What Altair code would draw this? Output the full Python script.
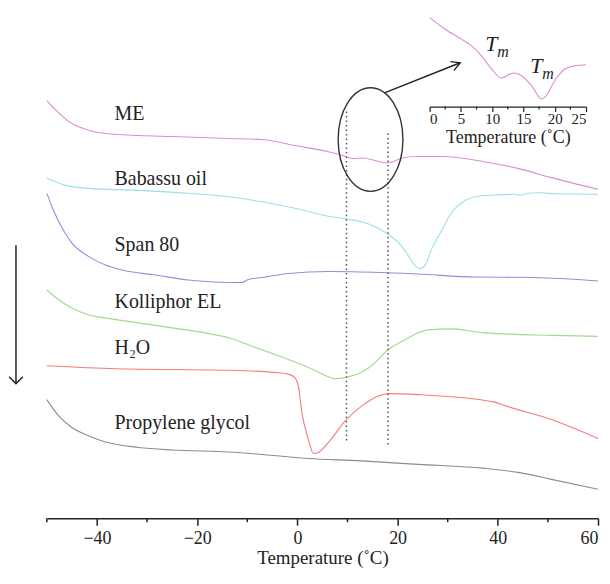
import altair as alt
import pandas as pd

FONT = "Liberation Serif"
INK = "#222222"

# ---- DSC curves: temperature (°C) and vertical position of the trace (a.u., endo down) ----
ME_T = [-50, -47.5, -45, -41.5, -39, -31.5, -25, -13.5, -7, -0.5, 6, 9, 11, 13, 15.5, 17.8, 19.5, 21, 24, 29, 37.5, 44, 50.5, 60]
ME_Y = [100, 113, 123, 130, 132.5, 135, 136, 138, 139, 145, 151, 155, 158, 157.5, 160, 162.5, 160.5, 157.5, 156, 156, 161.5, 168, 177, 189]

BAB_T = [-50, -46.3, -41.6, -31.7, -21.7, -13.7, -7.1, -0.5, 6.2, 10.2, 13.5, 15.5, 18.1, 20.8, 22.2, 23.6, 24.5, 25.5, 26.8, 28.7, 30.7, 33.4, 36.7, 40, 43.4, 44.6, 46, 48, 52, 60]
BAB_Y = [178, 185, 188, 190, 193, 196.5, 201.5, 208, 216, 219, 222.5, 226.5, 234, 246, 256, 266, 268.5, 265, 249, 231, 213, 200.5, 195.5, 194.5, 194, 195, 193, 192.5, 193.5, 194]

SPAN_T = [-50, -48.7, -46.7, -45, -41.6, -38.3, -35, -28.3, -21.7, -13.7, -11.1, -9.8, -7.1, -1.8, 6.2, 12.8, 24.1, 35.4, 47.3, 60]
SPAN_Y = [193, 210, 230, 243, 256.5, 265, 270, 275, 280, 282.5, 282.5, 279.5, 277.5, 273.5, 271.5, 272, 274, 277, 277.5, 281]

KOL_T = [-50, -47.6, -45, -41.6, -38.3, -31.7, -25, -18.4, -13.7, -9.8, -3.8, 2.8, 6.2, 7.5, 9.8, 12.8, 14.8, 18.1, 21.5, 24.1, 26.1, 30.7, 37.4, 50.7, 60]
KOL_Y = [290, 300, 308, 315, 318, 323, 328, 333, 338, 345, 356, 369, 377, 379, 377.5, 372.5, 366, 350, 340, 333, 330, 329, 333, 335.5, 336.5]

H2O_T = [-50, -36.3, -13.7, -3.8, -1.5, -0.5, 0.2, 0.9, 2.2, 3.2, 4.2, 6.2, 9.5, 12.8, 16.1, 18.1, 24.1, 39.4, 41.4, 50.7, 60]
H2O_Y = [366, 369, 370.5, 373, 375, 378, 386.5, 413, 440, 454, 453, 443, 421.5, 406.5, 396.5, 394, 395, 402.5, 406, 420, 439]

PG_T = [-50, -47.6, -45, -41.6, -38.3, -31.7, -25, -13.7, 2.2, 12.8, 24.1, 37.4, 44, 50.7, 60]
PG_Y = [400, 416.5, 428, 436.5, 442.5, 448, 450.5, 452.5, 459, 461.5, 465, 469, 473, 480, 490]

# inset (ME, 0-25 °C)
IN_T = [0, 2.5, 5.1, 6.7, 8.3, 9.9, 11.5, 12.6, 13.6, 14.7, 16.3, 17.9, 18.4, 20, 21.6, 23.2, 25]
IN_Y = [16.7, 28.3, 38.3, 45, 55, 68.3, 77.3, 74, 72.3, 75, 85, 98.3, 96.7, 80, 68.3, 65, 64]

SERIES = ["ME", "Babassu oil", "Span 80", "Kolliphor EL", "H\u2082O", "Propylene glycol"]
COLORS = ["#d98ed1", "#9cdfe8", "#8a93d6", "#a3d98f", "#f47c7c", "#8c8c8c"]
LABEL_Y = [113, 179, 245, 302, 348, 423]
LABEL_T = -36.5

# annotations
GUIDE_T = [9.8, 18.1]          # dotted guide temperatures
GUIDE_TOP = [111, 133]
GUIDE_BOT = [444, 447]

rows = []
for name, ts, ys in zip(SERIES, [ME_T, BAB_T, SPAN_T, KOL_T, H2O_T, PG_T],
                        [ME_Y, BAB_Y, SPAN_Y, KOL_Y, H2O_Y, PG_Y]):
    for i, (t, y) in enumerate(zip(ts, ys)):
        rows.append({"series": name, "T": t, "Y": y, "o": i})
curves = pd.DataFrame(rows)

xmain = alt.X(
    "T:Q",
    scale=alt.Scale(domain=[-50, 60], nice=False, zero=False),
    axis=alt.Axis(
        orient="bottom", values=[-40, -20, 0, 20, 40, 60], grid=False,
        tickSize=7, tickWidth=1.5, tickColor=INK, domainColor=INK, domainWidth=1.5,
        labelFont=FONT, labelFontSize=18, labelColor=INK, labelPadding=4, labelFlush=True,
        title="Temperature (\u02daC)", titleFont=FONT, titleFontSize=19,
        titleFontWeight="normal", titleColor=INK, titlePadding=1,
    ),
)
yenc = alt.Y("Y:Q", scale=alt.Scale(domain=[8, 519], reverse=True, nice=False, zero=False), axis=None)

lines = alt.Chart(curves).mark_line(strokeWidth=1.1, interpolate="monotone").encode(
    x=xmain, y=yenc,
    color=alt.Color("series:N", scale=alt.Scale(domain=SERIES, range=COLORS), legend=None),
    order="o:Q",
)

labels = alt.Chart(pd.DataFrame({"T": [LABEL_T] * 6, "Y": LABEL_Y, "label": SERIES})).mark_text(
    align="left", baseline="middle", font=FONT, fontSize=20, color=INK
).encode(x=xmain, y=yenc, text="label:N")

dotted = alt.Chart(pd.DataFrame({"T": GUIDE_T, "Y": GUIDE_TOP, "Y2": GUIDE_BOT})).mark_rule(
    color="#555555", strokeWidth=1.5, strokeDash=[1.5, 3]
).encode(x=xmain, y=yenc, y2="Y2:Q")

ellipse = alt.Chart(pd.DataFrame({"T": [14.6], "Y": [139]})).mark_point(
    shape="M -0.625,0 A 0.625,1 0 1,1 0.625,0 A 0.625,1 0 1,1 -0.625,0",
    size=10816, filled=False, stroke="#333333", strokeWidth=1.4, opacity=1,
).encode(x=xmain, y=yenc)

arrow_line = alt.Chart(pd.DataFrame({"T": [17.5, 32.5], "Y": [92, 62]})).mark_line(
    color=INK, strokeWidth=1.4
).encode(x=xmain, y=yenc)

arrow_head = alt.Chart(pd.DataFrame({"T": [32.5], "Y": [62]})).mark_point(
    shape="M -1,-0.55 L 0,0 L -1,0.55", size=300, angle=338, filled=False,
    stroke=INK, strokeWidth=1.4, opacity=1,
).encode(x=xmain, y=yenc)

minor = alt.Chart(pd.DataFrame({"T": [-50, -30, -10, 10, 30, 50]})).mark_rule(
    color=INK, strokeWidth=1.5
).encode(x=xmain, y=alt.value(511), y2=alt.value(515))

one = pd.DataFrame({"a": [0]})
down_line = alt.Chart(one).mark_rule(color=INK, strokeWidth=1.5).encode(
    x=alt.value(-31), y=alt.value(237), y2=alt.value(376)
)
down_head = alt.Chart(one).mark_point(
    shape="M -1,-1 L 0,0 L 1,-1", size=190, filled=False, stroke=INK, strokeWidth=1.5, opacity=1
).encode(x=alt.value(-31), y=alt.value(376))

main = alt.layer(lines, labels, dotted, ellipse, arrow_line, arrow_head, minor, down_line, down_head)

# ---- inset ----
xin = alt.X(
    "Ti:Q",
    scale=alt.Scale(domain=[0, 25], range=[384, 541], nice=False, zero=False),
    axis=alt.Axis(
        orient="bottom", offset=-413, values=[0, 5, 10, 15, 20, 25], grid=False,
        tickSize=5, tickWidth=1.2, tickColor=INK, domainColor=INK, domainWidth=1.3,
        labelFont=FONT, labelFontSize=15, labelColor=INK, labelPadding=0,
        title="Temperature (\u02daC)", titleFont=FONT, titleFontSize=18,
        titleFontWeight="normal", titleColor=INK, titlePadding=2,
    ),
)
inset_curve = alt.Chart(pd.DataFrame({"Ti": IN_T, "Y": IN_Y})).mark_line(
    color=COLORS[0], strokeWidth=1.1, interpolate="monotone"
).encode(x=xin, y=yenc)

inset_minor = alt.Chart(pd.DataFrame({"Ti": [2.5, 7.5, 12.5, 17.5, 22.5]})).mark_rule(
    color=INK, strokeWidth=1.2
).encode(x=xin, y=alt.value(98), y2=alt.value(101))

tm_T = alt.Chart(pd.DataFrame({"Ti": [8.9, 16.1], "Y": [43, 65], "t": ["T", "T"]})).mark_text(
    align="left", baseline="middle", font=FONT, fontSize=22, fontStyle="italic", color=INK
).encode(x=xin, y=yenc, text="t:N")
tm_m = alt.Chart(pd.DataFrame({"Ti": [10.8, 18.0], "Y": [51.5, 73], "t": ["m", "m"]})).mark_text(
    align="left", baseline="middle", font=FONT, fontSize=16, fontStyle="italic", color=INK
).encode(x=xin, y=yenc, text="t:N")

inset = alt.layer(inset_curve, inset_minor, tm_T, tm_m)

chart = alt.layer(main, inset).resolve_scale(x="independent").properties(
    width=553, height=511,
    autosize=alt.AutoSizeParams(type="none"),
    padding={"left": 39, "top": 0, "right": 4, "bottom": 51},
    background="white",
).configure_view(stroke=None)

chart.save("out.html", embed_options={"renderer": "svg", "actions": False})
